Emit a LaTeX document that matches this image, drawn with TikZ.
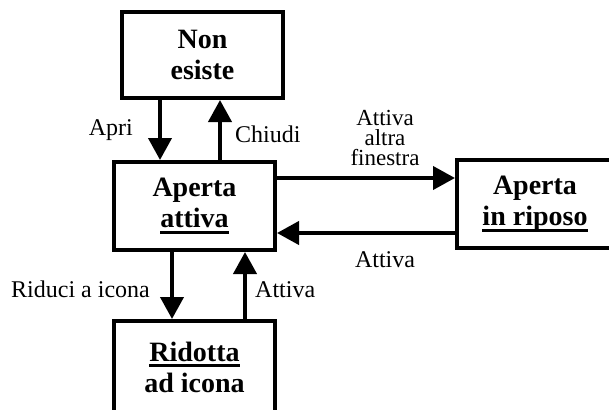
\documentclass[tikz,border=0pt]{standalone}
\usepackage{fontspec}
\setmainfont{Liberation Serif}
\usetikzlibrary{arrows.meta}
\newcommand\myul[1]{\setbox0\hbox{#1}\rlap{\rule[-6pt]{\wd0}{2.6pt}}\box0}
\tikzset{
  statebox/.style={draw, line width=4pt, rectangle, inner sep=0pt, align=center,
    font=\fontsize{28}{31}\selectfont\bfseries},
  arr/.style={line width=4pt, -{Triangle[length=22pt,width=23pt]}},
  lbl/.style={inner sep=0pt, font=\fontsize{24}{20}\selectfont}
}
\begin{document}
\begin{tikzpicture}[x=1pt,y=-1pt]
\useasboundingbox (0,0) rectangle (609,409);
\clip (0,0) rectangle (609,409);
\node[statebox, minimum width=161pt, minimum height=86pt] (ne) at (202.5,55) {Non\\esiste};
\node[statebox, minimum width=161pt, minimum height=88pt] (aa) at (194.5,206) {Aperta\\\myul{attiva}};
\node[statebox, minimum width=156pt, minimum height=88pt] (ar) at (535,204) {Aperta\\\myul{in riposo}};
\node[statebox, minimum width=161pt, minimum height=92pt] (ri) at (194.5,367) {\myul{Ridotta}\\ad icona};
\draw[arr] (ne.south -| 160,0) -- (aa.north -| 160,0);
\draw[arr] (aa.north -| 220,0) -- (ne.south -| 220,0);
\draw[arr] (aa.east |- 0,178) -- (ar.west |- 0,178);
\draw[arr] (ar.west |- 0,233) -- (aa.east |- 0,233);
\draw[arr] (aa.south -| 172,0) -- (ri.north -| 172,0);
\draw[arr] (ri.north -| 245,0) -- (aa.south -| 245,0);
\node[lbl, anchor=base east] (lapri) at (133,135) {Apri};
\node[lbl, anchor=base west] (lchiudi) at (235,142) {Chiudi};
\node[lbl, align=center, font=\fontsize{23}{20}\selectfont] (laltra) at (385,137.5) {Attiva\\altra\\finestra};
\node[lbl, anchor=base] (latt1) at (385,267) {Attiva};
\node[lbl, anchor=base east] (lriduci) at (150,297) {Riduci a icona};
\node[lbl, anchor=base west] (latt2) at (255,297) {Attiva};
\end{tikzpicture}
\end{document}
